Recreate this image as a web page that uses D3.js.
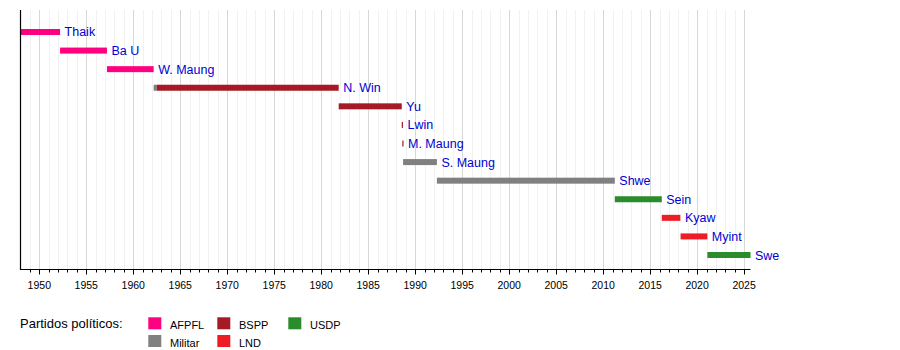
<!DOCTYPE html>
<html>
<head>
<meta charset="utf-8">
<script src="https://cdn.jsdelivr.net/npm/d3@7"></script>
<style>
  html, body { margin: 0; padding: 0; background: #fff; }
  svg { display: block; font-family: "Liberation Sans", Arial, Helvetica, sans-serif; }
</style>
</head>
<body>
<svg id="chart" width="900" height="350"></svg>
<script>
// Presidents of Myanmar, one row each (top to bottom)
const presidents = ["Thaik", "Ba U", "W. Maung", "N. Win", "Yu", "Lwin", "M. Maung",
                    "S. Maung", "Shwe", "Sein", "Kyaw", "Myint", "Swe"];

// Terms in office as decimal years; a row may hold several segments
const termRow   = [0, 1, 2, 3, 3, 4, 5, 6, 7, 8, 9, 10, 11, 12];
const termStart = [1948.01, 1952.21, 1957.20, 1962.17, 1962.51, 1981.86, 1988.57, 1988.63,
                   1988.71, 1992.31, 2011.24, 2016.24, 2018.24, 2021.09];
const termEnd   = [1952.21, 1957.20, 1962.17, 1962.51, 1981.86, 1988.57, 1988.61, 1988.71,
                   1992.31, 2011.24, 2016.24, 2018.22, 2021.09, 2025.68];
const termParty = ["AFPFL", "AFPFL", "AFPFL", "Militar", "BSPP", "BSPP", "BSPP", "BSPP",
                   "Militar", "Militar", "USDP", "LND", "LND", "USDP"];

// Parties, in legend order
const parties     = ["AFPFL", "Militar", "BSPP", "LND", "USDP"];
const partyColors = ["#ff0080", "#808080", "#a51a24", "#ee1c25", "#2a8c2a"];

// Axis range and labelled years
const yearDomain = [1948, 2025.68];
const tickYears  = d3.range(1950, 2026, 5);
const legendTitle = "Partidos políticos:";

const svg = d3.select("#chart");

const x = d3.scaleLinear().domain(yearDomain).range([20.5, 750.5]);
const y = d3.scaleBand().domain(presidents).range([22.7, 264.3]).paddingInner(0).paddingOuter(0);
const color = d3.scaleOrdinal().domain(parties).range(partyColors);

const plotTop = 10, plotBottom = 269.5;
const barH = 6;

// Background grid: every year faint, every 5 years stronger
const grid = svg.append("g");
grid.selectAll("line.minor")
  .data(d3.range(1949, 2026).filter(v => v % 5 !== 0))
  .join("line")
  .attr("x1", d => Math.round(x(d)) + 0.5).attr("x2", d => Math.round(x(d)) + 0.5)
  .attr("y1", plotTop).attr("y2", plotBottom)
  .attr("stroke", "#f1f1f1").attr("stroke-width", 1);
grid.selectAll("line.major")
  .data(tickYears)
  .join("line")
  .attr("x1", d => Math.round(x(d)) + 0.5).attr("x2", d => Math.round(x(d)) + 0.5)
  .attr("y1", plotTop).attr("y2", plotBottom)
  .attr("stroke", "#d8d8d8").attr("stroke-width", 1);

// Term bars
const terms = termRow.map((r, i) => ({
  row: presidents[r], start: termStart[i], end: termEnd[i], party: termParty[i]
}));
svg.append("g").selectAll("rect")
  .data(terms)
  .join("rect")
  .attr("x", d => x(d.start))
  .attr("width", d => Math.max(1.2, x(d.end) - x(d.start)))
  .attr("y", d => y(d.row) + y.bandwidth() / 2 - barH / 2)
  .attr("height", barH)
  .attr("fill", d => color(d.party));

// Name labels, just after the last segment of each row
const rowEnd = presidents.map(p => d3.max(terms.filter(t => t.row === p), t => t.end));
svg.append("g").selectAll("text")
  .data(presidents)
  .join("text")
  .attr("x", (d, i) => Math.max(x(rowEnd[i]), x(termStart[termRow.indexOf(i)]) + 1.2) + 4.5)
  .attr("y", d => y(d) + y.bandwidth() / 2 + 4.5)
  .attr("font-size", 12.5)
  .attr("fill", "#0000d0")
  .text(d => d);

// Time axis
const axisG = svg.append("g").attr("transform", `translate(0,${plotBottom})`);
axisG.append("line")
  .attr("x1", 20).attr("x2", x(yearDomain[1]))
  .attr("y1", 0).attr("y2", 0)
  .attr("stroke", "#000").attr("stroke-width", 1.2);
axisG.selectAll("line.mt")
  .data(d3.range(1949, 2026).filter(v => v % 5 !== 0))
  .join("line")
  .attr("x1", d => Math.round(x(d)) + 0.5).attr("x2", d => Math.round(x(d)) + 0.5)
  .attr("y1", 0).attr("y2", 3)
  .attr("stroke", "#000");
axisG.selectAll("line.Mt")
  .data(tickYears)
  .join("line")
  .attr("x1", d => Math.round(x(d)) + 0.5).attr("x2", d => Math.round(x(d)) + 0.5)
  .attr("y1", 0).attr("y2", 5)
  .attr("stroke", "#000");
axisG.selectAll("text")
  .data(tickYears)
  .join("text")
  .attr("x", d => x(d))
  .attr("y", 19.5)
  .attr("text-anchor", "middle")
  .attr("font-size", 10.5)
  .attr("fill", "#000")
  .text(d => d);

// Left edge of the plot
svg.append("line")
  .attr("x1", 20.5).attr("x2", 20.5)
  .attr("y1", plotTop).attr("y2", plotBottom)
  .attr("stroke", "#000").attr("stroke-width", 1.2);

// Legend: title, then swatches in columns of two
const legend = svg.append("g");
legend.append("text")
  .attr("x", 20).attr("y", 328)
  .attr("font-size", 13)
  .attr("fill", "#000")
  .text(legendTitle);
const colX = [148.3, 217.3, 288.3];
const rowY = [317.3, 335];
const items = legend.selectAll("g.item")
  .data(parties)
  .join("g")
  .attr("transform", (d, i) => `translate(${colX[Math.floor(i / 2)]},${rowY[i % 2]})`);
items.append("rect")
  .attr("width", 13).attr("height", 12)
  .attr("fill", d => color(d));
items.append("text")
  .attr("x", 21.7).attr("y", 11.5)
  .attr("font-size", 11)
  .attr("fill", "#000")
  .text(d => d);
</script>
</body>
</html>
